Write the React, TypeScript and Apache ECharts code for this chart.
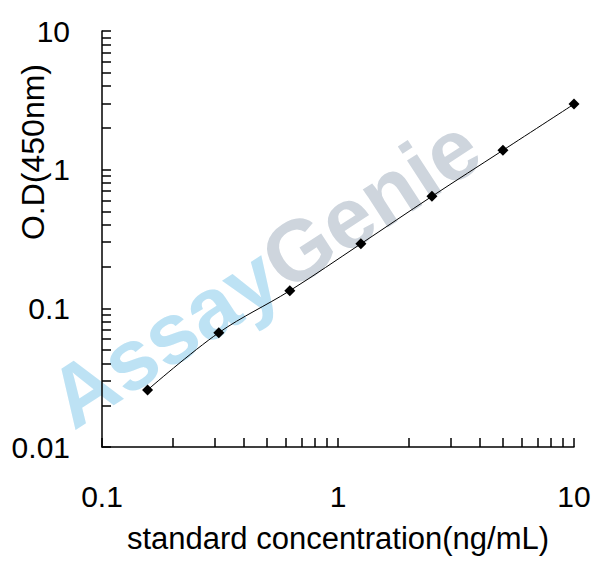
import React, { useEffect, useRef } from "react";
import * as echarts from "echarts";

const concentrations = [0.156, 0.3125, 0.625, 1.25, 2.5, 5, 10];
const odValues = [0.0258, 0.0667, 0.134, 0.292, 0.642, 1.38, 2.97];
const xTickLabels = [0.1, 1, 10];
const yTickLabels = [0.01, 0.1, 1, 10];
const xTickValues = [0.1, 0.2, 0.3, 0.4, 0.5, 0.6, 0.7, 0.8, 0.9, 1, 2, 3, 4, 5, 6, 7, 8, 9, 10];
const yTickValues = [
  0.01, 0.02, 0.03, 0.04, 0.05, 0.06, 0.07, 0.08, 0.09,
  0.1, 0.2, 0.3, 0.4, 0.5, 0.6, 0.7, 0.8, 0.9,
  1, 2, 3, 4, 5, 6, 7, 8, 9, 10,
];

const FONT = 'Arial, "Liberation Sans", sans-serif';
const fmt = (v: number) => String(Number(Number(v).toPrecision(6)));

export default function App() {
  const ref = useRef<HTMLDivElement>(null);
  useEffect(() => {
    if (!ref.current) return;
    const chart = echarts.init(ref.current, undefined, { renderer: "svg" });
    const axisLine = { show: true, lineStyle: { color: "#000", width: 1.5 } };
    chart.setOption({
      animation: false,
      backgroundColor: "#fff",
      grid: { left: 102, right: 34, top: 31, bottom: 120, containLabel: false },
      graphic: [
        {
          type: "text",
          z: -10,
          x: 264,
          y: 272,
          rotation: (33 * Math.PI) / 180,
          style: {
            text: "{a|Assay}{g|Genie}",
            align: "center",
            verticalAlign: "middle",
            font: `bold 86px ${FONT}`,
            rich: {
              a: { fill: "#bde2f4", fontSize: 86, fontWeight: "bold", fontFamily: FONT },
              g: { fill: "#ced5dd", fontSize: 86, fontWeight: "bold", fontFamily: FONT },
            },
          },
        },
        {
          type: "text",
          x: 33,
          y: 152,
          rotation: Math.PI / 2,
          style: {
            text: "O.D(450nm)",
            align: "center",
            verticalAlign: "middle",
            fill: "#000",
            font: `32px ${FONT}`,
          },
        },
      ],
      xAxis: {
        type: "log",
        logBase: 10,
        min: 0.1,
        max: 10,
        name: "standard concentration(ng/mL)",
        nameLocation: "middle",
        nameGap: 76,
        nameTextStyle: { color: "#000", fontSize: 31, fontFamily: FONT },
        axisLine,
        axisTick: {
          show: true,
          inside: true,
          length: 9,
          customValues: xTickValues,
          lineStyle: { color: "#000", width: 1.5 },
        },
        minorTick: { show: false },
        splitLine: { show: false },
        axisLabel: {
          customValues: xTickLabels,
          color: "#000",
          fontSize: 30,
          fontFamily: FONT,
          margin: 34,
          formatter: (v: number) => fmt(v),
        },
      },
      yAxis: {
        type: "log",
        logBase: 10,
        min: 0.01,
        max: 10,
        axisLine,
        axisTick: {
          show: true,
          inside: true,
          length: 9,
          customValues: yTickValues,
          lineStyle: { color: "#000", width: 1.5 },
        },
        minorTick: { show: false },
        splitLine: { show: false },
        axisLabel: {
          customValues: yTickLabels,
          color: "#000",
          fontSize: 30,
          fontFamily: FONT,
          margin: 32,
          formatter: (v: number) => fmt(v),
        },
      },
      series: [
        {
          type: "line",
          data: concentrations.map((c, i) => [c, odValues[i]]),
          smooth: 0.35,
          clip: false,
          symbol: "diamond",
          symbolSize: 11,
          itemStyle: { color: "#000" },
          lineStyle: { color: "#000", width: 1 },
          z: 5,
        },
      ],
    });
    return () => chart.dispose();
  }, []);
  return (
    <div
      ref={ref}
      style={{ position: "fixed", left: 0, top: 0, width: 608, height: 567, background: "#fff" }}
    />
  );
}
